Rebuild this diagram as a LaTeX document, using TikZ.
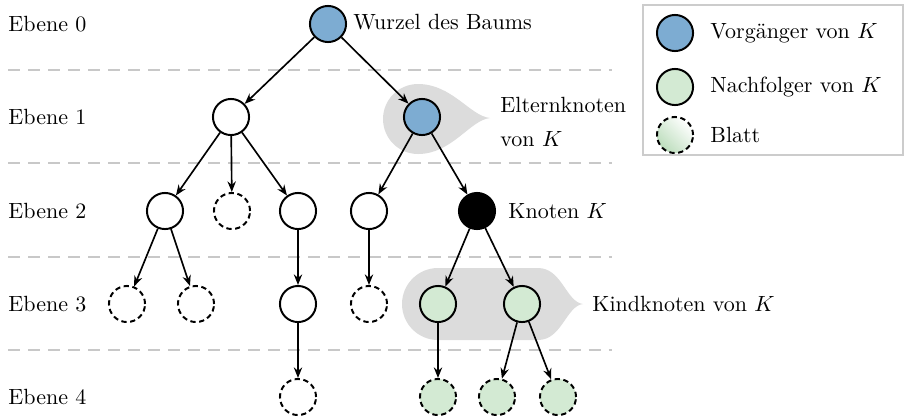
\documentclass[tikz,border=0pt]{standalone}
\usetikzlibrary{arrows.meta}
\definecolor{predcol}{HTML}{7DACD2}
\definecolor{succcol}{HTML}{D3EAD3}
\definecolor{leafshade}{HTML}{BCDDBC}
\definecolor{calloutcol}{HTML}{DCDCDC}
\definecolor{levelcol}{HTML}{C8C8C8}
\definecolor{framecol}{HTML}{CCCCCC}
\begin{document}
\begin{tikzpicture}[x=0.4545pt,y=-0.4545pt,
  vertex/.style={circle, draw=black, line width=0.9pt, minimum size=16.4pt, inner sep=0pt, fill=white},
  leaf/.style={vertex, dash pattern=on 2.4pt off 1.6pt},
  pred/.style={vertex, fill=predcol},
  succ/.style={vertex, fill=succcol},
  current/.style={vertex, fill=black},
  edge/.style={line width=0.75pt, -{Stealth[length=4.8pt,width=3.8pt]}},
  levelline/.style={levelcol, line width=0.7pt, dash pattern=on 5.5pt off 3.6pt},
  label/.style={anchor=west, inner sep=0pt},
  callout/.style={fill=calloutcol}]

\useasboundingbox (0,0) rectangle (905,417);

% level separators
\foreach \yy in {70,163,257,350}
  \draw[levelline] (8,\yy) -- (612,\yy);

% highlighted regions
\fill[callout] (490,118) .. controls (470,116) and (452,84) .. (418,84)
   arc (270:90:35) .. controls (452,154) and (470,120) .. (490,118) -- cycle;
\fill[callout] (583,304) .. controls (566,302) and (562,268) .. (538,268)
   -- (438,268) arc (270:90:36) -- (538,340)
   .. controls (562,340) and (566,306) .. (583,304) -- cycle;

% level labels
\node[label] (e0) at (8,24)  {Ebene 0};
\node[label] (e1) at (8,117) {Ebene 1};
\node[label] (e2) at (8,211) {Ebene 2};
\node[label] (e3) at (8,304) {Ebene 3};
\node[label] (e4) at (8,397) {Ebene 4};

% tree
\node[pred] (r) at (328,24) {};
\node[vertex] (a) at (231,117) {};
\node[pred] (p) at (422,117) {};
\node[vertex] (a1) at (165,211) {};
\node[leaf] (a2) at (232,211) {};
\node[vertex] (a3) at (298,211) {};
\node[vertex] (p1) at (369,211) {};
\node[current] (k) at (477,211) {};
\node[leaf] (a11) at (127,304) {};
\node[leaf] (a12) at (196,304) {};
\node[vertex] (a31) at (298,304) {};
\node[leaf] (p11) at (369,304) {};
\node[succ] (k1) at (438,304) {};
\node[succ] (k2) at (522,304) {};
\node[leaf] (a311) at (298,397) {};
\node[leaf, fill=succcol] (k11) at (438,397) {};
\node[leaf, fill=succcol] (k21) at (497,397) {};
\node[leaf, fill=succcol] (k22) at (558,397) {};

\draw[edge] (r) -- (a);
\draw[edge] (r) -- (p);
\draw[edge] (a) -- (a1);
\draw[edge] (a) -- (a2);
\draw[edge] (a) -- (a3);
\draw[edge] (p) -- (p1);
\draw[edge] (p) -- (k);
\draw[edge] (a1) -- (a11);
\draw[edge] (a1) -- (a12);
\draw[edge] (a3) -- (a31);
\draw[edge] (p1) -- (p11);
\draw[edge] (k) -- (k1);
\draw[edge] (k) -- (k2);
\draw[edge] (a31) -- (a311);
\draw[edge] (k1) -- (k11);
\draw[edge] (k2) -- (k21);
\draw[edge] (k2) -- (k22);

% annotations
\node[label] (lr) at (353,22) {Wurzel des Baums};
\node[label] (lp1) at (500,105) {Elternknoten};
\node[label] (lp2) at (500,139) {von $K$};
\node[label] (lk) at (508,211) {Knoten $K$};
\node[label] (lc) at (592,304) {Kindknoten von $K$};

% legend
\draw[framecol, line width=0.6pt] (643,5) rectangle (903,155);
\node[pred] (g1) at (675,33) {};
\node[succ] (g2) at (675,87) {};
\node[leaf, top color=white, bottom color=leafshade, shading angle=-45] (g3) at (675,135) {};
\node[label] (lg1) at (710,33) {Vorgänger von $K$};
\node[label] (lg2) at (710,87) {Nachfolger von $K$};
\node[label] (lg3) at (710,135) {Blatt};
\end{tikzpicture}
\end{document}
